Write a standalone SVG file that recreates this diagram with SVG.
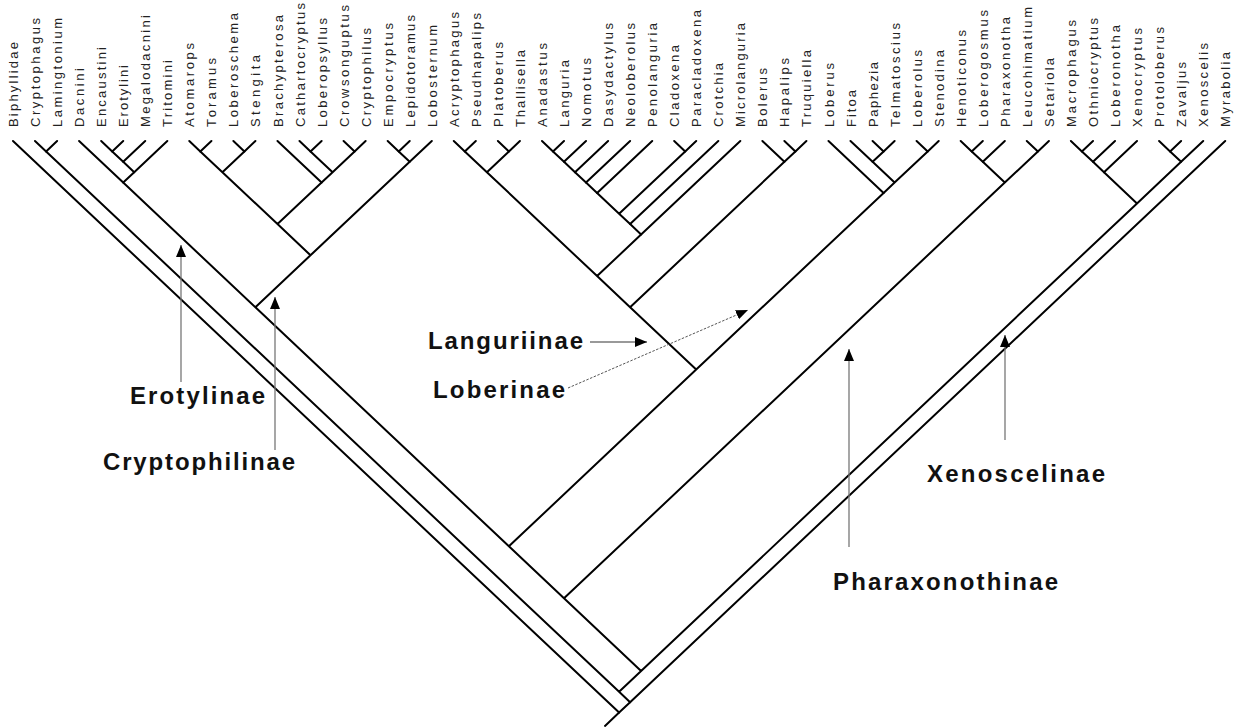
<svg xmlns="http://www.w3.org/2000/svg" width="1245" height="728" viewBox="0 0 1245 728">
<style>
.taxon text{font-family:"Liberation Sans",Arial,sans-serif;font-size:13px;fill:#222}
.clade text{font-family:"Liberation Sans",Arial,sans-serif;font-size:24px;font-weight:bold;fill:#111}
.branch{fill:none;stroke:#000;stroke-width:2;stroke-linecap:round}
.ptr{fill:none;stroke:#777;stroke-width:1.3}
.ptr.dot{stroke:#555;stroke-width:1;stroke-dasharray:2.5 1.5}
</style>
<defs>
<marker id="ah" markerUnits="userSpaceOnUse" markerWidth="13" markerHeight="11" refX="12" refY="5" orient="auto"><path d="M0,0 L12,5 L0,10 Z" fill="#000"/></marker>
</defs>
<rect width="1245" height="728" fill="#fff"/>
<g id="taxa">
<g id="t01" class="taxon"><text transform="translate(18,127) rotate(-90)" textLength="85" lengthAdjust="spacing">Biphyllidae</text></g>
<g id="t02" class="taxon"><text transform="translate(40,127) rotate(-90)" textLength="109" lengthAdjust="spacing">Cryptophagus</text></g>
<g id="t03" class="taxon"><text transform="translate(62.1,127) rotate(-90)" textLength="109" lengthAdjust="spacing">Lamingtonium</text></g>
<g id="t04" class="taxon"><text transform="translate(84.1,127) rotate(-90)" textLength="59" lengthAdjust="spacing">Dacnini</text></g>
<g id="t05" class="taxon"><text transform="translate(106.2,127) rotate(-90)" textLength="80" lengthAdjust="spacing">Encaustini</text></g>
<g id="t06" class="taxon"><text transform="translate(128.2,127) rotate(-90)" textLength="62" lengthAdjust="spacing">Erotylini</text></g>
<g id="t07" class="taxon"><text transform="translate(150.2,127) rotate(-90)" textLength="112" lengthAdjust="spacing">Megalodacnini</text></g>
<g id="t08" class="taxon"><text transform="translate(172.3,127) rotate(-90)" textLength="67" lengthAdjust="spacing">Tritomini</text></g>
<g id="t09" class="taxon"><text transform="translate(194.3,127) rotate(-90)" textLength="84" lengthAdjust="spacing">Atomarops</text></g>
<g id="t10" class="taxon"><text transform="translate(216.4,127) rotate(-90)" textLength="69" lengthAdjust="spacing">Toramus</text></g>
<g id="t11" class="taxon"><text transform="translate(238.4,127) rotate(-90)" textLength="114" lengthAdjust="spacing">Loberoschema</text></g>
<g id="t12" class="taxon"><text transform="translate(260.4,127) rotate(-90)" textLength="72" lengthAdjust="spacing">Stengita</text></g>
<g id="t13" class="taxon"><text transform="translate(282.5,127) rotate(-90)" textLength="112" lengthAdjust="spacing">Brachypterosa</text></g>
<g id="t14" class="taxon"><text transform="translate(304.5,127) rotate(-90)" textLength="124" lengthAdjust="spacing">Cathartocryptus</text></g>
<g id="t15" class="taxon"><text transform="translate(326.6,127) rotate(-90)" textLength="109" lengthAdjust="spacing">Loberopsyllus</text></g>
<g id="t16" class="taxon"><text transform="translate(348.6,127) rotate(-90)" textLength="122" lengthAdjust="spacing">Crowsonguptus</text></g>
<g id="t17" class="taxon"><text transform="translate(370.6,127) rotate(-90)" textLength="99" lengthAdjust="spacing">Cryptophilus</text></g>
<g id="t18" class="taxon"><text transform="translate(392.7,127) rotate(-90)" textLength="104" lengthAdjust="spacing">Empocryptus</text></g>
<g id="t19" class="taxon"><text transform="translate(414.7,127) rotate(-90)" textLength="112" lengthAdjust="spacing">Lepidotoramus</text></g>
<g id="t20" class="taxon"><text transform="translate(436.8,127) rotate(-90)" textLength="102" lengthAdjust="spacing">Lobosternum</text></g>
<g id="t21" class="taxon"><text transform="translate(458.8,127) rotate(-90)" textLength="115" lengthAdjust="spacing">Acryptophagus</text></g>
<g id="t22" class="taxon"><text transform="translate(480.8,127) rotate(-90)" textLength="114" lengthAdjust="spacing">Pseudhapalips</text></g>
<g id="t23" class="taxon"><text transform="translate(502.9,127) rotate(-90)" textLength="85" lengthAdjust="spacing">Platoberus</text></g>
<g id="t24" class="taxon"><text transform="translate(524.9,127) rotate(-90)" textLength="77" lengthAdjust="spacing">Thallisella</text></g>
<g id="t25" class="taxon"><text transform="translate(547,127) rotate(-90)" textLength="84" lengthAdjust="spacing">Anadastus</text></g>
<g id="t26" class="taxon"><text transform="translate(569,127) rotate(-90)" textLength="67" lengthAdjust="spacing">Languria</text></g>
<g id="t27" class="taxon"><text transform="translate(591,127) rotate(-90)" textLength="69" lengthAdjust="spacing">Nomotus</text></g>
<g id="t28" class="taxon"><text transform="translate(613.1,127) rotate(-90)" textLength="104" lengthAdjust="spacing">Dasydactylus</text></g>
<g id="t29" class="taxon"><text transform="translate(635.1,127) rotate(-90)" textLength="104" lengthAdjust="spacing">Neoloberolus</text></g>
<g id="t30" class="taxon"><text transform="translate(657.2,127) rotate(-90)" textLength="104" lengthAdjust="spacing">Penolanguria</text></g>
<g id="t31" class="taxon"><text transform="translate(679.2,127) rotate(-90)" textLength="82" lengthAdjust="spacing">Cladoxena</text></g>
<g id="t32" class="taxon"><text transform="translate(701.2,127) rotate(-90)" textLength="117" lengthAdjust="spacing">Paracladoxena</text></g>
<g id="t33" class="taxon"><text transform="translate(723.3,127) rotate(-90)" textLength="64" lengthAdjust="spacing">Crotchia</text></g>
<g id="t34" class="taxon"><text transform="translate(745.3,127) rotate(-90)" textLength="104" lengthAdjust="spacing">Microlanguria</text></g>
<g id="t35" class="taxon"><text transform="translate(767.4,127) rotate(-90)" textLength="59" lengthAdjust="spacing">Bolerus</text></g>
<g id="t36" class="taxon"><text transform="translate(789.4,127) rotate(-90)" textLength="69" lengthAdjust="spacing">Hapalips</text></g>
<g id="t37" class="taxon"><text transform="translate(811.4,127) rotate(-90)" textLength="77" lengthAdjust="spacing">Truquiella</text></g>
<g id="t38" class="taxon"><text transform="translate(833.5,127) rotate(-90)" textLength="64" lengthAdjust="spacing">Loberus</text></g>
<g id="t39" class="taxon"><text transform="translate(855.5,127) rotate(-90)" textLength="37" lengthAdjust="spacing">Fitoa</text></g>
<g id="t40" class="taxon"><text transform="translate(877.6,127) rotate(-90)" textLength="65" lengthAdjust="spacing">Paphezia</text></g>
<g id="t41" class="taxon"><text transform="translate(899.6,127) rotate(-90)" textLength="104" lengthAdjust="spacing">Telmatoscius</text></g>
<g id="t42" class="taxon"><text transform="translate(921.6,127) rotate(-90)" textLength="77" lengthAdjust="spacing">Loberolus</text></g>
<g id="t43" class="taxon"><text transform="translate(943.7,127) rotate(-90)" textLength="77" lengthAdjust="spacing">Stenodina</text></g>
<g id="t44" class="taxon"><text transform="translate(965.7,127) rotate(-90)" textLength="97" lengthAdjust="spacing">Henoticonus</text></g>
<g id="t45" class="taxon"><text transform="translate(987.8,127) rotate(-90)" textLength="117" lengthAdjust="spacing">Loberogosmus</text></g>
<g id="t46" class="taxon"><text transform="translate(1009.8,127) rotate(-90)" textLength="110" lengthAdjust="spacing">Pharaxonotha</text></g>
<g id="t47" class="taxon"><text transform="translate(1031.8,127) rotate(-90)" textLength="120" lengthAdjust="spacing">Leucohimatium</text></g>
<g id="t48" class="taxon"><text transform="translate(1053.9,127) rotate(-90)" textLength="69" lengthAdjust="spacing">Setariola</text></g>
<g id="t49" class="taxon"><text transform="translate(1075.9,127) rotate(-90)" textLength="107" lengthAdjust="spacing">Macrophagus</text></g>
<g id="t50" class="taxon"><text transform="translate(1098,127) rotate(-90)" textLength="109" lengthAdjust="spacing">Othniocryptus</text></g>
<g id="t51" class="taxon"><text transform="translate(1120,127) rotate(-90)" textLength="102" lengthAdjust="spacing">Loberonotha</text></g>
<g id="t52" class="taxon"><text transform="translate(1142,127) rotate(-90)" textLength="99" lengthAdjust="spacing">Xenocryptus</text></g>
<g id="t53" class="taxon"><text transform="translate(1164.1,127) rotate(-90)" textLength="100" lengthAdjust="spacing">Protoloberus</text></g>
<g id="t54" class="taxon"><text transform="translate(1186.1,127) rotate(-90)" textLength="65" lengthAdjust="spacing">Zavaljus</text></g>
<g id="t55" class="taxon"><text transform="translate(1208.2,127) rotate(-90)" textLength="84" lengthAdjust="spacing">Xenoscelis</text></g>
<g id="t56" class="taxon"><text transform="translate(1230.2,127) rotate(-90)" textLength="75" lengthAdjust="spacing">Myrabolia</text></g>
</g>
<g id="connectors">
<path class="branch" d="M13 141L619.1 712.6M35 141L46.1 151.4M57.1 141L46.1 151.4M79.1 141L123.2 182.6M101.2 141L112.2 151.4M123.2 141L112.2 151.4M145.2 141L123.2 161.8M167.3 141L134.2 172.2M189.3 141L200.3 151.4M211.4 141L200.3 151.4M233.4 141L244.4 151.4M255.4 141L244.4 151.4M277.5 141L321.6 182.6M299.5 141L310.5 151.4M321.6 141L310.5 151.4M343.6 141L354.6 151.4M365.6 141L354.6 151.4M387.7 141L398.7 151.4M409.7 141L398.7 151.4M431.8 141L409.7 161.8M453.8 141L464.8 151.4M475.8 141L464.8 151.4M497.9 141L508.9 151.4M519.9 141L508.9 151.4M542 141L553 151.4M564 141L553 151.4M586 141L564 161.8M608.1 141L575 172.2M630.1 141L586 182.6M652.2 141L597.1 193M674.2 141L685.2 151.4M696.2 141L685.2 151.4M718.3 141L630.1 224.1M740.3 141L641.1 234.5M762.4 141L784.4 161.8M784.4 141L795.4 151.4M806.4 141L795.4 151.4M828.5 141L883.6 193M850.5 141L872.6 161.8M872.6 141L883.6 151.4M894.6 141L883.6 151.4M916.6 141L927.7 151.4M938.7 141L927.7 151.4M960.7 141L971.7 151.4M982.8 141L971.7 151.4M1004.8 141L982.8 161.8M1026.8 141L1037.9 151.4M1048.9 141L1037.9 151.4M1070.9 141L1081.9 151.4M1093 141L1081.9 151.4M1115 141L1093 161.8M1137 141L1104 172.2M1159.1 141L1170.1 151.4M1181.1 141L1170.1 151.4M1203.2 141L1181.1 161.8M1225.2 141L630.1 702.2"/>
<path class="branch" d="M46.1 151.4L619.1 691.8M619.1 691.8L630.1 702.2M630.1 702.2L619.1 712.6M619.1 712.6L605 725.9M641.1 671L619.1 691.8M564 598.3L641.1 671M1137 203.4L641.1 671M508.9 546.3L564 598.3M1004.8 182.6L564 598.3M255.4 307.3L508.9 546.3M696.2 369.6L508.9 546.3M123.2 182.6L255.4 307.3M310.5 255.3L255.4 307.3M134.2 172.2L123.2 182.6M123.2 161.8L134.2 172.2M112.2 151.4L123.2 161.8M277.5 224.1L310.5 255.3M409.7 161.8L310.5 255.3M222.4 172.2L277.5 224.1M321.6 182.6L277.5 224.1M200.3 151.4L222.4 172.2M244.4 151.4L222.4 172.2M332.6 172.2L321.6 182.6M310.5 151.4L332.6 172.2M354.6 151.4L332.6 172.2M398.7 151.4L409.7 161.8M630.1 307.3L696.2 369.6M883.6 193L696.2 369.6M597.1 276.1L630.1 307.3M784.4 161.8L630.1 307.3M486.9 172.2L597.1 276.1M641.1 234.5L597.1 276.1M464.8 151.4L486.9 172.2M508.9 151.4L486.9 172.2M630.1 224.1L641.1 234.5M619.1 213.7L630.1 224.1M597.1 193L619.1 213.7M685.2 151.4L619.1 213.7M586 182.6L597.1 193M575 172.2L586 182.6M564 161.8L575 172.2M553 151.4L564 161.8M795.4 151.4L784.4 161.8M894.6 182.6L883.6 193M872.6 161.8L894.6 182.6M927.7 151.4L894.6 182.6M883.6 151.4L872.6 161.8M982.8 161.8L1004.8 182.6M1037.9 151.4L1004.8 182.6M971.7 151.4L982.8 161.8M1104 172.2L1137 203.4M1181.1 161.8L1137 203.4M1093 161.8L1104 172.2M1081.9 151.4L1093 161.8M1170.1 151.4L1181.1 161.8"/>
</g>
<g id="clade-erotylinae" class="clade">
<path class="ptr" d="M181 382L181 245" marker-end="url(#ah)"/>
<text x="130" y="404" textLength="135" lengthAdjust="spacing">Erotylinae</text>
</g>
<g id="clade-cryptophilinae" class="clade">
<path class="ptr" d="M275 450L275 297" marker-end="url(#ah)"/>
<text x="103" y="470" textLength="192" lengthAdjust="spacing">Cryptophilinae</text>
</g>
<g id="clade-languriinae" class="clade">
<path class="ptr" d="M590 342L647 342" marker-end="url(#ah)"/>
<text x="428" y="349" textLength="155" lengthAdjust="spacing">Languriinae</text>
</g>
<g id="clade-loberinae" class="clade">
<path class="ptr dot" d="M568 388L748 310" marker-end="url(#ah)"/>
<text x="433" y="398" textLength="132" lengthAdjust="spacing">Loberinae</text>
</g>
<g id="clade-pharaxonothinae" class="clade">
<path class="ptr" d="M849 547L849 349" marker-end="url(#ah)"/>
<text x="833" y="590" textLength="225" lengthAdjust="spacing">Pharaxonothinae</text>
</g>
<g id="clade-xenoscelinae" class="clade">
<path class="ptr" d="M1005 440L1005 335" marker-end="url(#ah)"/>
<text x="927" y="482" textLength="178" lengthAdjust="spacing">Xenoscelinae</text>
</g>
</svg>
